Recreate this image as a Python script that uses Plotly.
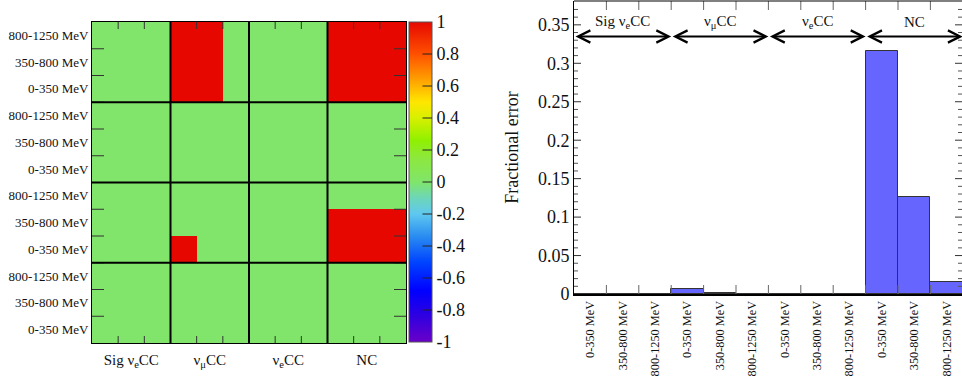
import plotly.graph_objects as go

# Sample groups and reconstructed-energy bins
groups = ["Sig ν<sub>e</sub>CC", "ν<sub>μ</sub>CC", "ν<sub>e</sub>CC", "NC"]
energy_bins = ["0-350 MeV", "350-800 MeV", "800-1250 MeV"]

# Correlation matrix, rows listed bottom to top (group-major, energy-minor)
corr = [
    [0, 0, 0, 0, 0, 0, 0, 0, 0, 0, 0, 0],
    [0, 0, 0, 0, 0, 0, 0, 0, 0, 0, 0, 0],
    [0, 0, 0, 0, 0, 0, 0, 0, 0, 0, 0, 0],
    [0, 0, 0, 1, 0, 0, 0, 0, 0, 1, 1, 1],
    [0, 0, 0, 0, 0, 0, 0, 0, 0, 1, 1, 1],
    [0, 0, 0, 0, 0, 0, 0, 0, 0, 0, 0, 0],
    [0, 0, 0, 0, 0, 0, 0, 0, 0, 0, 0, 0],
    [0, 0, 0, 0, 0, 0, 0, 0, 0, 0, 0, 0],
    [0, 0, 0, 0, 0, 0, 0, 0, 0, 0, 0, 0],
    [0, 0, 0, 1, 1, 0, 0, 0, 0, 1, 1, 1],
    [0, 0, 0, 1, 1, 0, 0, 0, 0, 1, 1, 1],
    [0, 0, 0, 1, 1, 0, 0, 0, 0, 1, 1, 1],
]

# Fractional error per bin
frac_error = [0.0, 0.0, 0.0, 0.0069, 0.001, 0.0, 0.0, 0.0, 0.0, 0.3166, 0.126, 0.0156]

colorbar_ticks = [1, 0.8, 0.6, 0.4, 0.2, 0, -0.2, -0.4, -0.6, -0.8, -1]
error_major = [0, 0.05, 0.1, 0.15, 0.2, 0.25, 0.3, 0.35]

n_e = len(energy_bins)
n_bins = len(groups) * n_e
bin_idx = list(range(n_bins))
bin_labels = [energy_bins[i % n_e] for i in bin_idx]
group_centers = [g * n_e + (n_e - 1) / 2 for g in range(len(groups))]
inner_edges = [i + 0.5 for i in range(n_bins - 1)]
group_edges = [g * n_e - 0.5 for g in range(1, len(groups))]
bin_centers = [i + 0.5 for i in bin_idx]
bin_edges = list(range(1, n_bins + 1))

rainbow = [
    [0.00, "#6a00c8"], [0.08, "#3000e0"], [0.16, "#0000ff"], [0.25, "#0044ff"],
    [0.33, "#2a8cf0"], [0.40, "#5fc8f0"], [0.45, "#6dd6b8"], [0.50, "#80e56a"],
    [0.58, "#8ee83a"], [0.63, "#90f000"], [0.70, "#d8f000"], [0.75, "#ffe600"],
    [0.82, "#ffa000"], [0.90, "#ff5000"], [1.00, "#e60800"],
]

SERIF = "Liberation Serif"
W, H = 962, 378
TICK = "#333"

# Panel geometry (paper fractions)
hm_x = [92 / W, 406 / W]
hm_y = [1 - 343 / H, 1 - 22 / H]
er_x = [574 / W, 1.0]
er_y = [1 - 294 / H, 1 - 1 / H]
er_xmax = (W - 574) / 32.4
er_ymax = 0.381
cb_x, cb_thick = 409 / W, 23
cb_y0, cb_y1 = 1 - 342 / H, 1 - 22 / H

fig = go.Figure()

fig.add_trace(go.Heatmap(
    x=bin_idx, y=bin_idx, z=corr, zmin=-1, zmax=1, colorscale=rainbow,
    xaxis="x", yaxis="y",
    colorbar=dict(
        x=cb_x, xanchor="left", xpad=0,
        y=(cb_y0 + cb_y1) / 2, yanchor="middle", ypad=0,
        len=cb_y1 - cb_y0, lenmode="fraction",
        thickness=cb_thick, thicknessmode="pixels",
        outlinewidth=1, outlinecolor="#555",
        tickmode="array", tickvals=colorbar_ticks,
        ticktext=[("%g" % v) for v in colorbar_ticks],
        ticks="", ticklabelposition="outside",
        tickfont=dict(family=SERIF, size=18, color="#111"),
    ),
    hoverinfo="skip",
))

fig.add_trace(go.Bar(
    x=bin_centers, y=frac_error, width=1,
    marker=dict(color="#6666ff", line=dict(color="#333", width=1)),
    xaxis="x2", yaxis="y2", showlegend=False,
))

# Double-headed arrows marking each group on the error plot
arrow_y = 0.3348
label_y = 0.354
for g, name in enumerate(groups):
    x0, x1 = g * n_e, (g + 1) * n_e
    fig.add_annotation(
        x=x1, y=arrow_y, ax=x0, ay=arrow_y, xref="x2", yref="y2",
        axref="x2", ayref="y2", showarrow=True, arrowside="end+start",
        arrowhead=5, startarrowhead=5, arrowsize=1.2, startarrowsize=1.2,
        arrowwidth=2, arrowcolor="black", text="",
    )
    fig.add_annotation(
        x=(x0 + x1) / 2, y=label_y, xref="x2", yref="y2", showarrow=False,
        text=name, font=dict(family=SERIF, size=15, color="#111"),
    )

# Colorbar ticks, drawn inward from the bar's right edge
cb_right = cb_x + cb_thick / W
for v in colorbar_ticks[1:-1]:
    yv = cb_y0 + (v + 1) / 2 * (cb_y1 - cb_y0)
    fig.add_annotation(
        x=cb_right, y=yv, xref="paper", yref="paper", ax=-11, ay=0,
        showarrow=True, arrowhead=0, arrowwidth=1, arrowcolor="#222",
        standoff=0, startstandoff=0, text="",
    )

shapes = []


def xtick(xref, yref, xv, y_lo, y_hi, length, color=TICK):
    # vertical tick marks on the bottom and top frame edges
    shapes.append(dict(type="line", xref=xref, yref=yref, x0=xv, x1=xv,
                       ysizemode="pixel", yanchor=y_lo, y0=0, y1=length,
                       line=dict(color=color, width=1)))
    shapes.append(dict(type="line", xref=xref, yref=yref, x0=xv, x1=xv,
                       ysizemode="pixel", yanchor=y_hi, y0=-length, y1=0,
                       line=dict(color=color, width=1)))


def ytick(xref, yref, yv, x_lo, x_hi, length, color=TICK):
    # horizontal tick marks on the left and right frame edges
    shapes.append(dict(type="line", xref=xref, yref=yref, y0=yv, y1=yv,
                       xsizemode="pixel", xanchor=x_lo, x0=0, x1=length,
                       line=dict(color=color, width=1)))
    shapes.append(dict(type="line", xref=xref, yref=yref, y0=yv, y1=yv,
                       xsizemode="pixel", xanchor=x_hi, x0=-length, x1=0,
                       line=dict(color=color, width=1)))


# Matrix bin-boundary ticks
for e in inner_edges:
    xtick("x", "y", e, -0.5, n_bins - 0.5, 7)
    ytick("x", "y", e, -0.5, n_bins - 0.5, 12)

# Thick separators between groups on the matrix
for e in group_edges:
    shapes.append(dict(type="line", xref="x", yref="y", x0=e, x1=e, y0=-0.5, y1=n_bins - 0.5,
                       line=dict(color="black", width=2)))
    shapes.append(dict(type="line", xref="x", yref="y", y0=e, y1=e, x0=-0.5, x1=n_bins - 0.5,
                       line=dict(color="black", width=2)))

# Error plot ticks
for e in bin_edges:
    xtick("x2", "y2", e, 0, er_ymax, 9, "#666")
minor_vals = [k / 100 for k in range(1, 38) if k % 5]
for v in error_major[1:]:
    ytick("x2", "y2", v, 0, er_xmax, 7)
for v in minor_vals:
    ytick("x2", "y2", v, 0, er_xmax, 4, "#555")
shapes.append(dict(type="line", xref="x2 domain", yref="y2 domain", x0=0, x1=1, y0=1, y1=1,
                   line=dict(color="black", width=1)))

label_font = dict(family=SERIF, size=13, color="#111")

fig.update_layout(
    width=W, height=H, margin=dict(l=0, r=0, t=0, b=0, autoexpand=False),
    paper_bgcolor="white", plot_bgcolor="white", showlegend=False,
    bargap=0, shapes=shapes,
    font=dict(family=SERIF, color="#111"),
    xaxis=dict(domain=hm_x, anchor="y", range=[-0.5, n_bins - 0.5], automargin=False,
               tickmode="array", tickvals=group_centers, ticktext=groups,
               ticks="outside", ticklen=3, tickcolor="rgba(0,0,0,0)",
               showgrid=False, zeroline=False,
               showline=True, linecolor="black", linewidth=1, mirror=True,
               tickfont=dict(family=SERIF, size=15, color="#111")),
    yaxis=dict(domain=hm_y, anchor="x", range=[-0.5, n_bins - 0.5], automargin=False,
               tickmode="array", tickvals=bin_idx, ticktext=bin_labels,
               ticks="", showgrid=False, zeroline=False,
               showline=True, linecolor="black", linewidth=1, mirror=True,
               tickfont=label_font),
    xaxis2=dict(domain=er_x, anchor="y2", range=[0, er_xmax], automargin=False,
                tickmode="array", tickvals=bin_centers, ticktext=bin_labels,
                tickangle=-90, ticks="",
                showgrid=False, zeroline=False,
                showline=True, linecolor="black", linewidth=2, mirror=False,
                tickfont=dict(family=SERIF, size=12.3, color="#111")),
    yaxis2=dict(domain=er_y, anchor="x2", range=[0, er_ymax], automargin=False,
                tickmode="array", tickvals=error_major,
                ticktext=[("%g" % v) for v in error_major], ticks="",
                showgrid=False, zeroline=False,
                showline=True, linecolor="black", linewidth=1,
                tickfont=dict(family=SERIF, size=18, color="#111"),
                title=dict(text="Fractional error", standoff=14,
                           font=dict(family=SERIF, size=18, color="#111"))),
)

fig.write_html("out.html")
